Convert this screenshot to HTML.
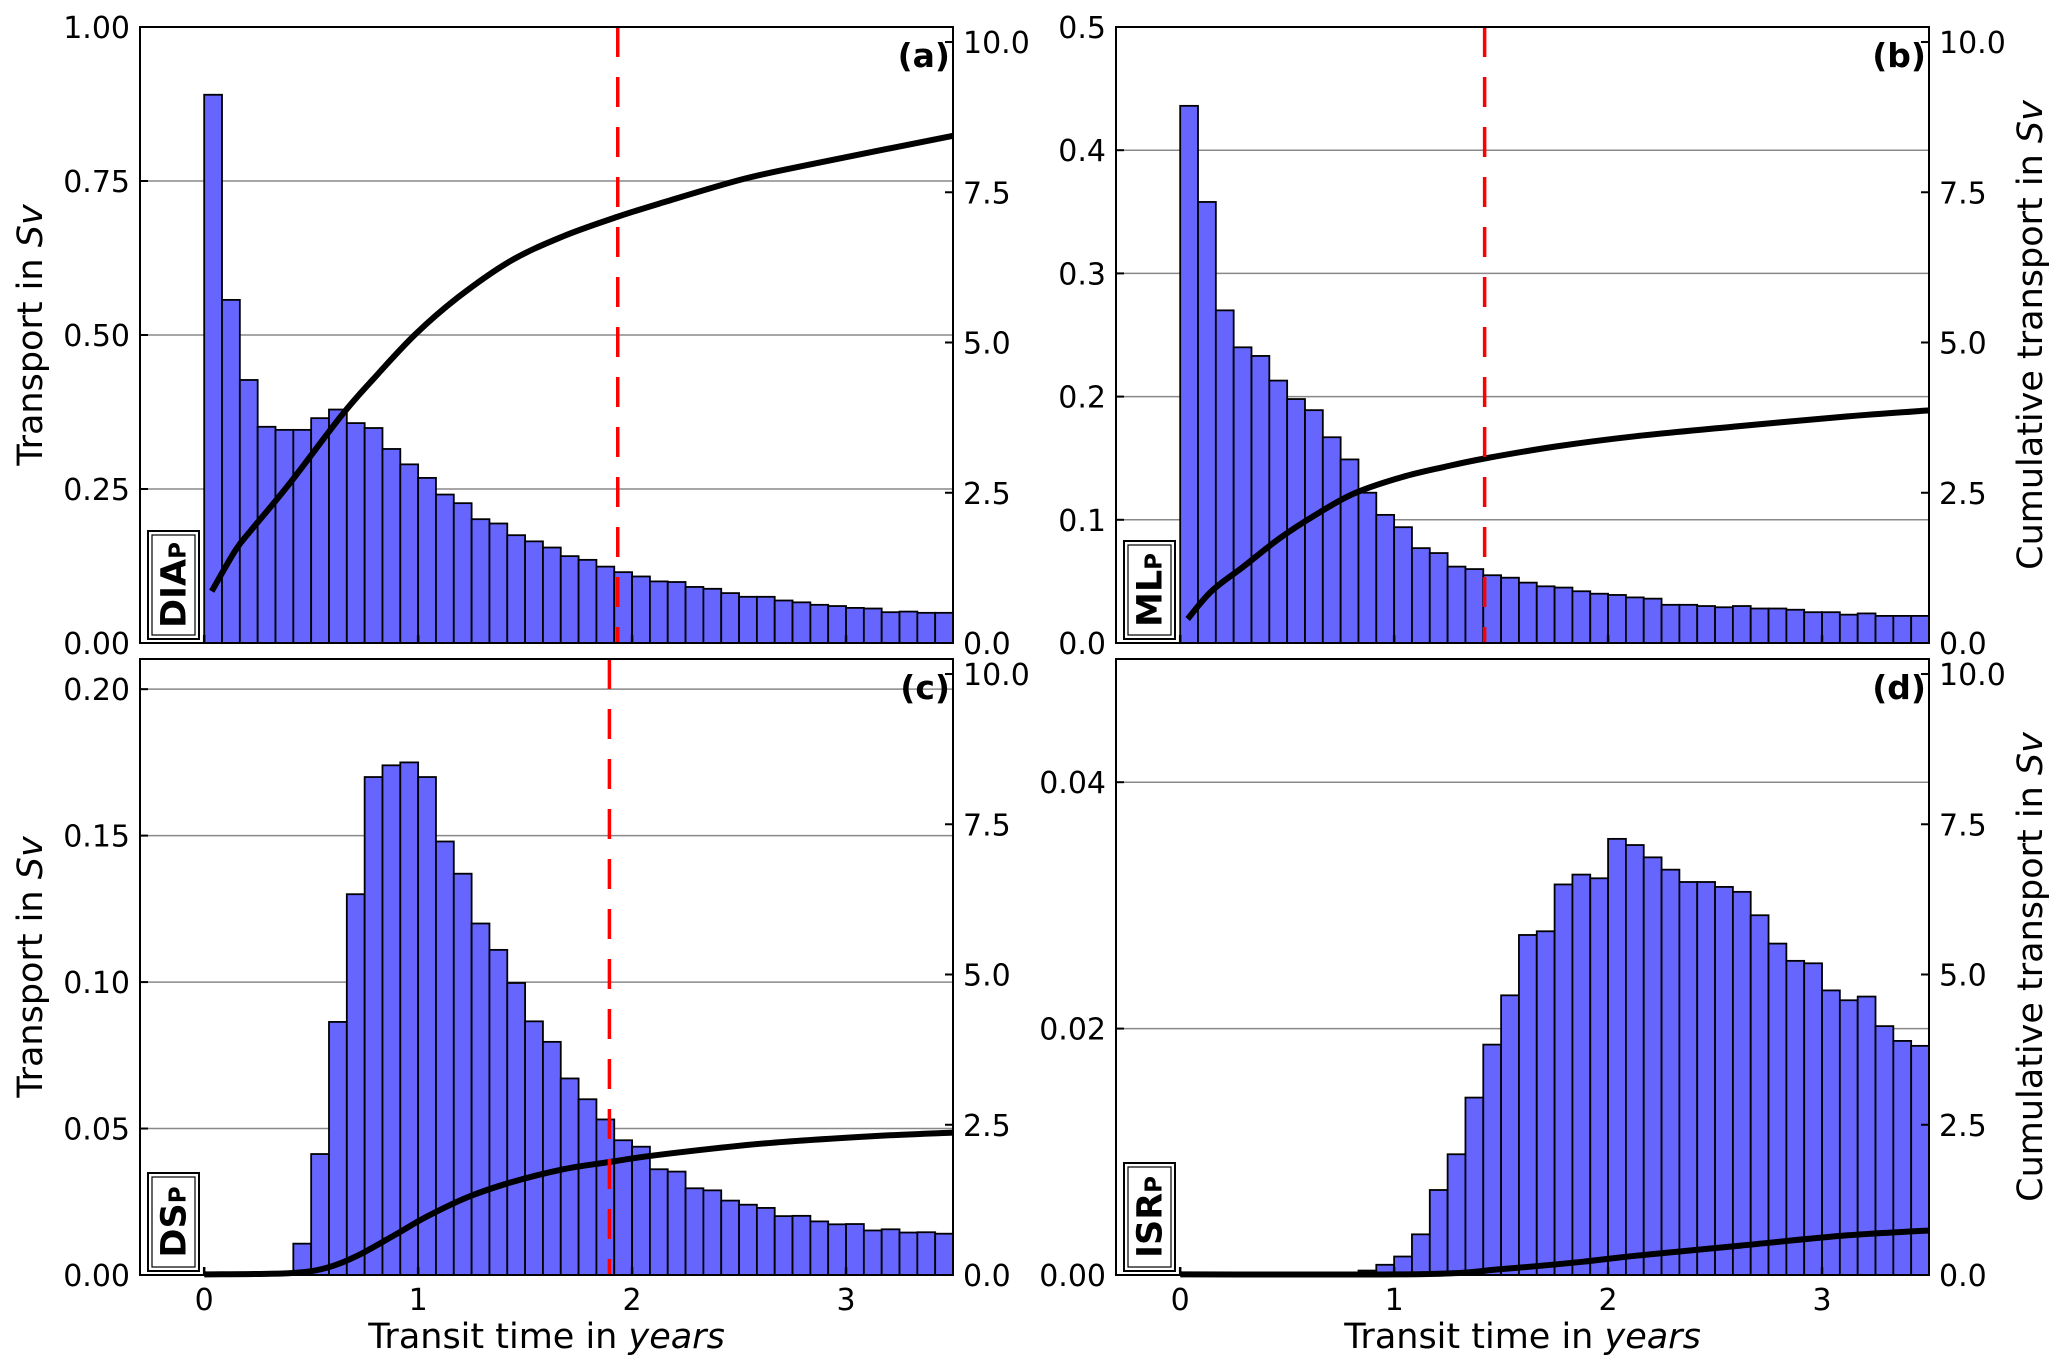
<!DOCTYPE html>
<html><head><meta charset="utf-8"><style>
html,body{margin:0;padding:0;background:#fff;}
svg{display:block;font-family:"DejaVu Sans","Liberation Sans",sans-serif;}
</style></head><body>
<svg id="fig" width="2067" height="1372" viewBox="0 0 2067 1372" xmlns="http://www.w3.org/2000/svg"></svg>
<script>
// ---- data ----
const binWidthYears = 1/12;
const barsA = [0.89,0.557,0.427,0.351,0.346,0.346,0.365,0.379,0.357,0.349,0.315,0.290,0.268,0.241,0.227,0.201,0.194,0.175,0.165,0.155,0.141,0.135,0.124,0.115,0.108,0.100,0.099,0.091,0.088,0.081,0.075,0.075,0.069,0.066,0.062,0.060,0.057,0.056,0.050,0.051,0.049,0.049];
const barsB = [0.436,0.358,0.270,0.240,0.233,0.213,0.198,0.189,0.167,0.149,0.122,0.104,0.094,0.077,0.073,0.062,0.060,0.055,0.053,0.049,0.046,0.045,0.042,0.040,0.039,0.037,0.036,0.031,0.031,0.030,0.029,0.030,0.028,0.028,0.027,0.025,0.025,0.023,0.024,0.022,0.022,0.022];
const barsC = [0,0,0,0,0,0.0107,0.0413,0.0864,0.130,0.170,0.174,0.175,0.170,0.148,0.137,0.120,0.111,0.0997,0.0866,0.0796,0.0671,0.0600,0.0531,0.0460,0.0438,0.0361,0.0353,0.0296,0.0289,0.0254,0.0240,0.0229,0.0201,0.0202,0.0183,0.0173,0.0174,0.0152,0.0156,0.0145,0.0146,0.0141];
const barsD = [0,0,0,0,0,0,0,0,0,0,0.00036,0.00083,0.0015,0.0033,0.0069,0.0098,0.0144,0.0187,0.0227,0.0276,0.0279,0.0317,0.0325,0.0322,0.0354,0.0349,0.0339,0.0329,0.0319,0.0319,0.0315,0.0311,0.0292,0.0269,0.0255,0.0253,0.0231,0.0223,0.0226,0.0202,0.0190,0.0186];
const cumA = [[0.035,0.86],[0.146,1.54],[0.22,1.88],[0.394,2.63],[0.641,3.78],[0.79,4.39],[0.988,5.14],[1.186,5.75],[1.433,6.36],[1.68,6.77],[1.93,7.09],[2.126,7.31],[2.52,7.72],[2.87,7.99],[3.5,8.44]];
const cumB = [[0.035,0.40],[0.146,0.86],[0.295,1.27],[0.468,1.75],[0.641,2.15],[0.814,2.49],[1.037,2.76],[1.235,2.93],[1.423,3.07],[1.755,3.27],[2.126,3.44],[2.62,3.61],[3.12,3.77],[3.5,3.87]];
const cumC = [[0,0.01],[0.394,0.03],[0.567,0.115],[0.715,0.32],[0.888,0.66],[1.037,0.965],[1.235,1.30],[1.433,1.54],[1.68,1.76],[1.894,1.88],[2.126,2.00],[2.62,2.19],[3.12,2.31],[3.5,2.37]];
const cumD = [[0,0.01],[1.136,0.015],[1.507,0.10],[1.879,0.22],[2.126,0.32],[2.62,0.49],[3.12,0.66],[3.5,0.74]];
const medianA = 1.933, medianB = 1.423, medianC = 1.894;
const ticksA = [0,0.25,0.5,0.75,1.0], tickLabelsA = ["0.00","0.25","0.50","0.75","1.00"];
const ticksB = [0,0.1,0.2,0.3,0.4,0.5], tickLabelsB = ["0.0","0.1","0.2","0.3","0.4","0.5"];
const ticksC = [0,0.05,0.1,0.15,0.2], tickLabelsC = ["0.00","0.05","0.10","0.15","0.20"];
const ticksD = [0,0.02,0.04], tickLabelsD = ["0.00","0.02","0.04"];
const rightTicks = [0,2.5,5,7.5,10], rightTickLabels = ["0.0","2.5","5.0","7.5","10.0"];
const xTicks = [0,1,2,3], xTickLabels = ["0","1","2","3"];

const NS="http://www.w3.org/2000/svg";
const svg=document.getElementById('fig');
function mk(tag,attrs,parent){const e=document.createElementNS(NS,tag);for(const k in attrs)e.setAttribute(k,attrs[k]);(parent||svg).appendChild(e);return e;}
function smoothPath(pts){
  let d='M'+pts[0][0].toFixed(1)+','+pts[0][1].toFixed(1);
  for(let i=0;i<pts.length-1;i++){
    const p0=pts[Math.max(0,i-1)],p1=pts[i],p2=pts[i+1],p3=pts[Math.min(pts.length-1,i+2)];
    const c1=[p1[0]+(p2[0]-p0[0])/6,p1[1]+(p2[1]-p0[1])/6];
    const c2=[p2[0]-(p3[0]-p1[0])/6,p2[1]-(p3[1]-p1[1])/6];
    d+=' C'+c1[0].toFixed(1)+','+c1[1].toFixed(1)+' '+c2[0].toFixed(1)+','+c2[1].toFixed(1)+' '+p2[0].toFixed(1)+','+p2[1].toFixed(1);
  }
  return d;
}

const XMIN=-0.3,XMAX=3.5,RMAX=10.25;
function panel(o){
  const g=mk('g',{});
  
  
  const L=o.x,T=o.y,W=813,H=616,R=L+W,B=T+H;
  const xs=v=>L+(v-XMIN)/(XMAX-XMIN)*W;
  const ys=v=>B-v/o.ymax*H;
  const yr=v=>B-v/RMAX*H;
  o.ticks.forEach((t,i)=>{
    if(t>0 && t<o.ymax-1e-9){const l=mk('line',{x1:L,x2:R,y1:ys(t),y2:ys(t),stroke:'#888','stroke-width':1.5},g);
      }
  });
  o.bars.forEach((v,i)=>{
    if(v<=0)return;
    const x0=i*binWidthYears,x1=Math.min((i+1)*binWidthYears,XMAX);
    const r=mk('rect',{x:xs(x0),y:ys(v),width:xs(x1)-xs(x0),height:B-ys(v),fill:'#6666ff',stroke:'#000','stroke-width':1.8},g);
    
  });
  const d=smoothPath(o.cum.map(p=>[xs(p[0]),yr(p[1])]));
  const c=mk('path',{d:d,fill:'none',stroke:'#000','stroke-width':6,'stroke-linejoin':'round'},g);
  
  if(o.median!=null){const m=mk('line',{x1:xs(o.median),x2:xs(o.median),y1:T,y2:B,stroke:'#ff0000','stroke-width':3.5,'stroke-dasharray':'30,20'},g);
    }
  const f=mk('rect',{x:L,y:T,width:W,height:H,fill:'none',stroke:'#000','stroke-width':2},g);
  
  o.ticks.forEach((t,i)=>{
    mk('line',{x1:L,x2:L+8,y1:ys(t),y2:ys(t),stroke:'#000','stroke-width':2},g);
    const tx=mk('text',{x:L-10,y:ys(t)+11,'font-size':30,'text-anchor':'end',fill:'#000'},g);
    tx.textContent=o.tickLabels[i];
    
  });
  rightTicks.forEach((t,i)=>{
    mk('line',{x1:R-8,x2:R,y1:yr(t),y2:yr(t),stroke:'#000','stroke-width':2},g);
    const tx=mk('text',{x:R+10,y:yr(t)+11,'font-size':30,'text-anchor':'start',fill:'#000'},g);
    tx.textContent=rightTickLabels[i];
    
  });
  xTicks.forEach((t,i)=>{
    mk('line',{x1:xs(t),x2:xs(t),y1:B-8,y2:B,stroke:'#000','stroke-width':2.5},g);
    if(o.xlabels){const tx=mk('text',{x:xs(t),y:B+35,'font-size':30,'text-anchor':'middle',fill:'#000'},g);
      tx.textContent=xTickLabels[i];}
  });
  const pl=mk('text',{x:R-3,y:T+40,'font-size':33,'font-weight':'bold','text-anchor':'end',fill:'#000'},g);
  pl.textContent='('+o.id+')';
  const bx=L+8,bw=51,bh=o.boxH,by=B-4-bh;
  const b1=mk('rect',{x:bx,y:by,width:bw,height:bh,fill:'#fff',stroke:'#000','stroke-width':2},g);
  
  mk('rect',{x:bx+4,y:by+4,width:bw-8,height:bh-8,fill:'none',stroke:'#000','stroke-width':1.2},g);
  const lt=mk('text',{transform:`translate(${bx+bw/2+12},${by+bh/2}) rotate(-90)`,'font-size':35,'font-weight':'bold','text-anchor':'middle',fill:'#000'},g);
  
  lt.textContent=o.label;
  const sub=mk('tspan',{'font-size':23},lt);sub.textContent='P';
  if(o.leftTitle){const t=mk('text',{transform:`translate(42,${T+H/2}) rotate(-90)`,'font-size':35,'text-anchor':'middle',fill:'#000'},g);
    
    t.appendChild(document.createTextNode('Transport in '));const s=mk('tspan',{'font-style':'italic'},t);s.textContent='Sv';}
  if(o.rightTitle){const t=mk('text',{transform:`translate(2042,${T+H/2}) rotate(-90)`,'font-size':35,'text-anchor':'middle',fill:'#000'},g);
    
    t.appendChild(document.createTextNode('Cumulative transport in '));const s=mk('tspan',{'font-style':'italic'},t);s.textContent='Sv';}
  if(o.xlabels){const t=mk('text',{x:L+W/2,y:B+73,'font-size':35,'text-anchor':'middle',fill:'#000'},g);
    
    t.appendChild(document.createTextNode('Transit time in '));const s=mk('tspan',{'font-style':'italic'},t);s.textContent='years';}
}
panel({id:'a',x:140,y:27,ymax:1.0,bars:barsA,cum:cumA,median:medianA,ticks:ticksA,tickLabels:tickLabelsA,label:'DIA',boxH:108,leftTitle:true});
panel({id:'b',x:1116,y:27,ymax:0.5,bars:barsB,cum:cumB,median:medianB,ticks:ticksB,tickLabels:tickLabelsB,label:'ML',boxH:98,rightTitle:true});
panel({id:'c',x:140,y:659,ymax:0.2103,bars:barsC,cum:cumC,median:medianC,ticks:ticksC,tickLabels:tickLabelsC,label:'DS',boxH:98,leftTitle:true,xlabels:true});
panel({id:'d',x:1116,y:659,ymax:0.05,bars:barsD,cum:cumD,median:null,ticks:ticksD,tickLabels:tickLabelsD,label:'ISR',boxH:108,rightTitle:true,xlabels:true});
</script>
</body></html>
